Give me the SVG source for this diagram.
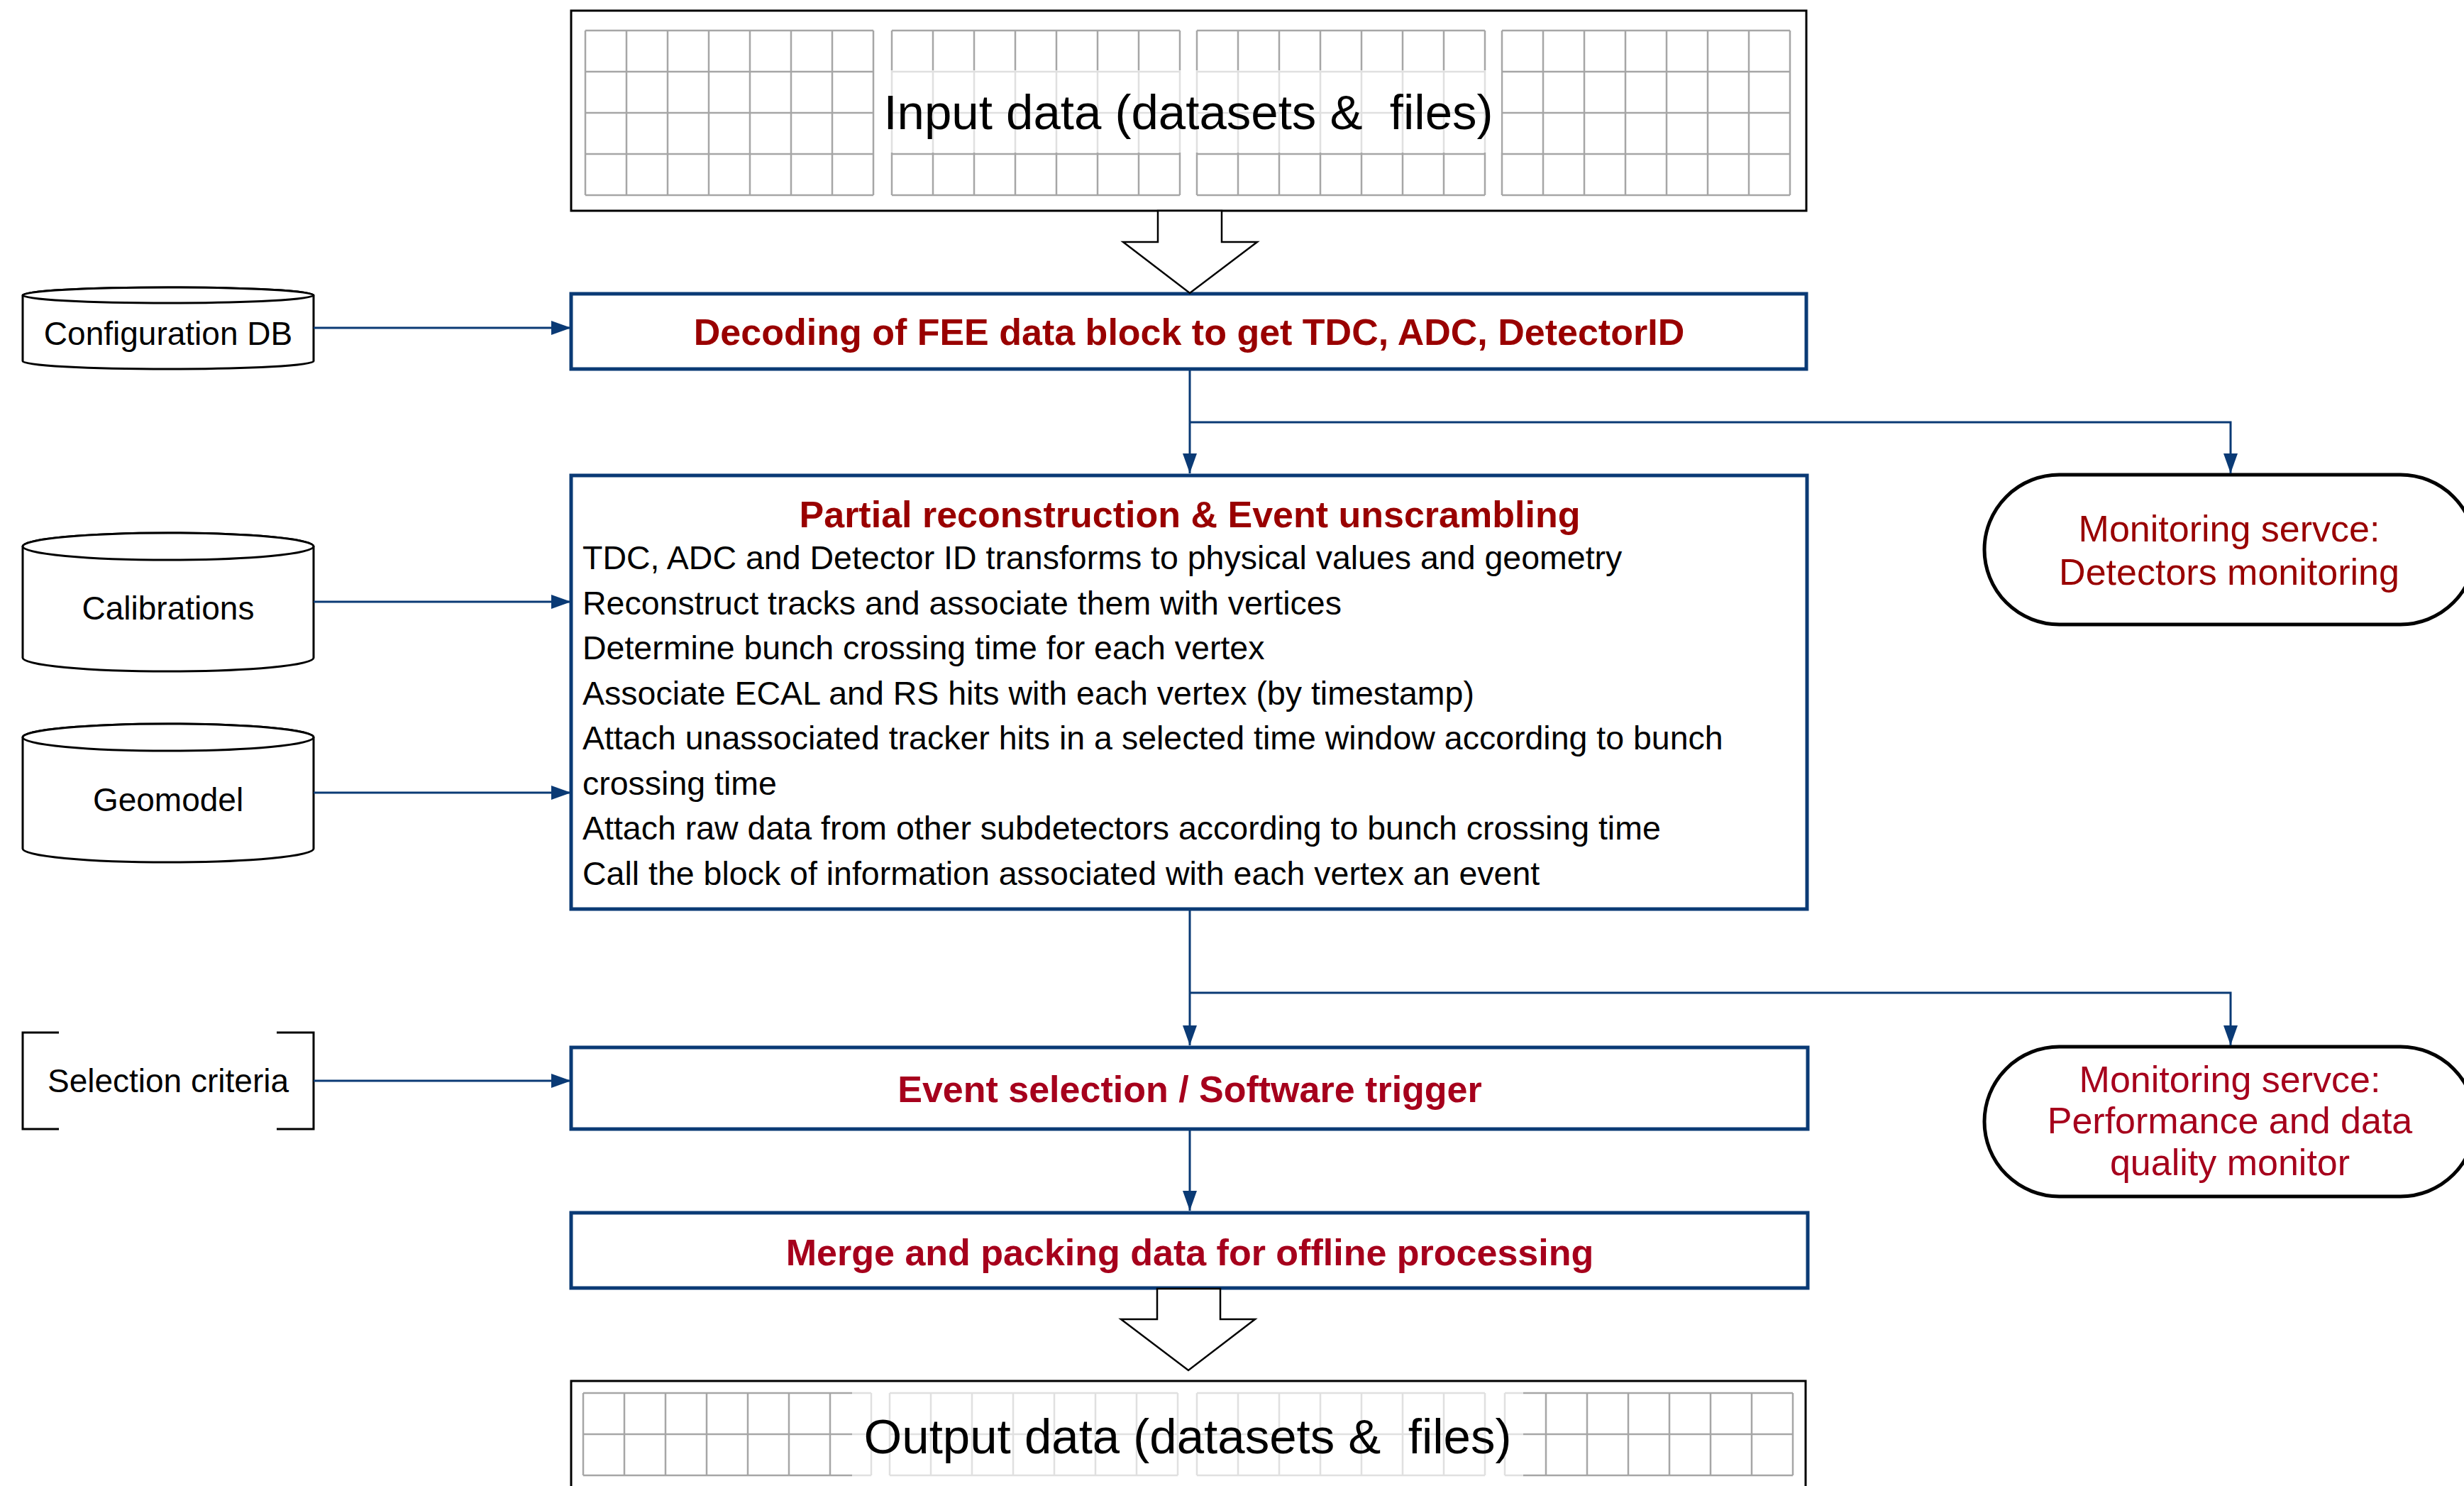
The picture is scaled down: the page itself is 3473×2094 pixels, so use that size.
<svg xmlns="http://www.w3.org/2000/svg" width="3473" height="2094" viewBox="0 0 3473 2094">
<style>
text{font-family:"Liberation Sans",Arial,Helvetica,sans-serif}
.box{fill:#fff;stroke:#0a3a75;stroke-width:5}
.data{fill:#fff;stroke:#000;stroke-width:3}
.grid{stroke:#a6a6a6;stroke-width:2.5;fill:none}
.hollow{fill:#fff;stroke:#000;stroke-width:2.5;stroke-linejoin:miter}
.cyl{fill:#fff;stroke:#000;stroke-width:3}
.mon{fill:#fff;stroke:#000;stroke-width:5}
.conn{fill:none;stroke:#0a3a75;stroke-width:3}
.title{font-weight:bold;font-size:52px;text-anchor:middle}
.r1{fill:#990000}
.r2{fill:#a6001c}
.body{font-size:46.5px;fill:#000}
.side{font-size:46px;fill:#000;text-anchor:middle}
.montxt{font-size:52px;text-anchor:middle}
.big{font-size:69px;fill:#000;text-anchor:middle;white-space:pre}
</style>
<defs>
<marker id="arr" markerUnits="userSpaceOnUse" markerWidth="28" markerHeight="20" refX="28" refY="10" orient="auto">
<path d="M0,0 L28,10 L0,20 Z" fill="#0a3a75"/>
</marker>
<g id="gridblock4">
<path class="grid" d="M0,0 H406 M0,58 H406 M0,116 H406 M0,174 H406 M0,232 H406 M0,0 V232 M58,0 V232 M116,0 V232 M174,0 V232 M232,0 V232 M290,0 V232 M348,0 V232 M406,0 V232"/>
</g>
<g id="gridblock2">
<path class="grid" d="M0,0 H406 M0,58 H406 M0,116 H406 M0,0 V116 M58,0 V116 M116,0 V116 M174,0 V116 M232,0 V116 M290,0 V116 M348,0 V116 M406,0 V116"/>
</g>
</defs>

<g id="input-data">
<rect class="data" x="805" y="15" width="1741" height="282"/>
<use href="#gridblock4" x="825" y="43"/>
<use href="#gridblock4" x="1257" y="43"/>
<use href="#gridblock4" x="1687" y="43"/>
<use href="#gridblock4" x="2117" y="43"/>
<rect x="1233" y="99" width="883" height="116" fill="#fff" opacity="0.65"/>
<text class="big" x="1675" y="182" xml:space="preserve">Input data (datasets &amp;  files)</text>
</g>

<g id="config-db">
<path class="cyl" d="M32,416 L32,509 A205,11 0 0 0 442,509 L442,416 A205,11 0 0 0 32,416 Z"/>
<ellipse class="cyl" cx="237" cy="416" rx="205" ry="11"/>
<text class="side" x="237" y="486">Configuration DB</text>
</g>

<g id="calibrations">
<path class="cyl" d="M32,770 L32,927 A205,19 0 0 0 442,927 L442,770 A205,19 0 0 0 32,770 Z"/>
<ellipse class="cyl" cx="237" cy="770" rx="205" ry="19"/>
<text class="side" x="237" y="873">Calibrations</text>
</g>

<g id="geomodel">
<path class="cyl" d="M32,1039 L32,1196 A205,19 0 0 0 442,1196 L442,1039 A205,19 0 0 0 32,1039 Z"/>
<ellipse class="cyl" cx="237" cy="1039" rx="205" ry="19"/>
<text class="side" x="237" y="1143">Geomodel</text>
</g>

<g id="selection-criteria">
<path d="M83,1455 H32 V1591 H83 M390,1455 H442 V1591 H390" fill="none" stroke="#000" stroke-width="3"/>
<text class="side" x="237" y="1539">Selection criteria</text>
</g>

<g id="decoding">
<rect class="box" x="805" y="414" width="1741" height="106"/>
<text class="title r1" x="1676" y="486">Decoding of FEE data block to get TDC, ADC, DetectorID</text>
</g>

<g id="partial-reco">
<rect class="box" x="805" y="670" width="1742" height="611"/>
<text class="title r1" x="1677" y="743">Partial reconstruction &amp; Event unscrambling</text>
<text class="body" x="821" y="802">TDC, ADC and Detector ID transforms to physical values and geometry</text>
<text class="body" x="821" y="865.5">Reconstruct tracks and associate them with vertices</text>
<text class="body" x="821" y="929">Determine bunch crossing time for each vertex</text>
<text class="body" x="821" y="992.5">Associate ECAL and RS hits with each vertex (by timestamp)</text>
<text class="body" x="821" y="1056">Attach unassociated tracker hits in a selected time window according to bunch</text>
<text class="body" x="821" y="1119.5">crossing time</text>
<text class="body" x="821" y="1183">Attach raw data from other subdetectors according to bunch crossing time</text>
<text class="body" x="821" y="1246.5">Call the block of information associated with each vertex an event</text>
</g>

<g id="event-selection">
<rect class="box" x="805" y="1476" width="1743" height="115"/>
<text class="title r2" x="1677" y="1553">Event selection / Software trigger</text>
</g>

<g id="merge-packing">
<rect class="box" x="805" y="1709" width="1743" height="106"/>
<text class="title r2" x="1677" y="1783">Merge and packing data for offline processing</text>
</g>

<g id="monitor-detectors">
<rect class="mon" x="2797" y="669" width="692" height="211" rx="105.5" ry="105.5"/>
<text class="montxt r1" x="3142" y="763">Monitoring servce:</text>
<text class="montxt r1" x="3142" y="824">Detectors monitoring</text>
</g>

<g id="monitor-quality">
<rect class="mon" x="2797" y="1475" width="692" height="211" rx="105.5" ry="105.5"/>
<text class="montxt r2" x="3143" y="1539">Monitoring servce:</text>
<text class="montxt r2" x="3143" y="1597">Performance and data</text>
<text class="montxt r2" x="3143" y="1656">quality monitor</text>
</g>

<g id="output-data">
<rect class="data" x="805" y="1946" width="1740" height="220"/>
<use href="#gridblock2" x="822" y="1963"/>
<use href="#gridblock2" x="1254" y="1963"/>
<use href="#gridblock2" x="1687" y="1963"/>
<use href="#gridblock2" x="2121" y="1963"/>
<rect x="1201" y="1956" width="946" height="138" fill="#fff" opacity="0.65"/>
<text class="big" x="1674" y="2048" xml:space="preserve">Output data (datasets &amp;  files)</text>
</g>

<g id="connectors">
<path class="conn" d="M442,462 H805" marker-end="url(#arr)"/>
<path class="conn" d="M442,848 H805" marker-end="url(#arr)"/>
<path class="conn" d="M442,1117 H805" marker-end="url(#arr)"/>
<path class="conn" d="M442,1523 H805" marker-end="url(#arr)"/>
<path class="conn" d="M1677,520 V667" marker-end="url(#arr)"/>
<path class="conn" d="M1677,595 H3144 V667" marker-end="url(#arr)"/>
<path class="conn" d="M1677,1282 V1473" marker-end="url(#arr)"/>
<path class="conn" d="M1677,1399 H3144 V1473" marker-end="url(#arr)"/>
<path class="conn" d="M1677,1592 V1706" marker-end="url(#arr)"/>
<polygon class="hollow" points="1632,297 1632,341 1583,341 1677,413 1772,341 1722,341 1722,297"/>
<polygon class="hollow" points="1631,1816 1631,1859 1580,1859 1675,1931 1769,1859 1720,1859 1720,1816"/>
</g>
</svg>
